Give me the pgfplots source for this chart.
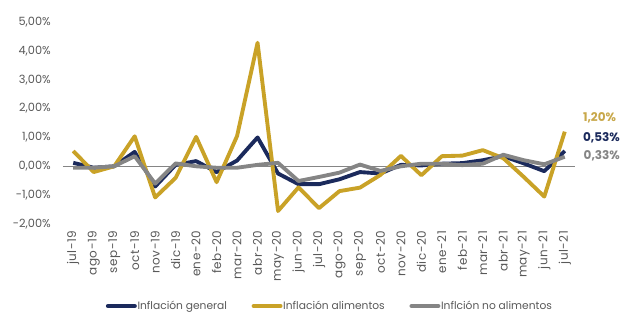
\documentclass[border=0pt]{standalone}
\usepackage{fontspec}
\setmainfont{Poppins}
\newfontfamily\widefont[LetterSpace=4]{Poppins}
\usepackage{pgfplots}
\usepackage{pgfplotstable}
\pgfplotsset{compat=1.18}
\definecolor{navy}{HTML}{1B2A5C}
\definecolor{gold}{HTML}{C9A227}
\definecolor{goldlbl}{HTML}{C8A84B}
\definecolor{grs}{HTML}{858585}
\definecolor{txt}{HTML}{595959}
\pgfplotstableread{
x gen ali noali
0 0.12 0.53 -0.05
1 -0.05 -0.20 -0.05
2 0.00 0.00 0.00
3 0.50 1.04 0.35
4 -0.70 -1.08 -0.60
5 0.05 -0.40 0.10
6 0.18 1.02 0.00
7 -0.20 -0.55 -0.05
8 0.20 1.05 -0.05
9 1.00 4.28 0.05
10 -0.25 -1.55 0.12
11 -0.62 -0.73 -0.51
12 -0.62 -1.45 -0.37
13 -0.45 -0.86 -0.22
14 -0.20 -0.74 0.06
15 -0.25 -0.30 -0.16
16 0.05 0.36 0.00
17 0.03 -0.31 0.09
18 0.09 0.35 0.09
19 0.11 0.37 0.04
20 0.21 0.56 0.09
21 0.35 0.28 0.40
22 0.10 -0.37 0.21
23 -0.17 -1.05 0.07
24 0.53 1.20 0.33
}\datatable
\begin{document}
\begin{tikzpicture}
\path[use as bounding box] (-47.25pt,-65.25pt) rectangle (418.5pt,168pt);
\begin{axis}[
  at={(0,0)}, anchor=south west,
  scale only axis, width=384pt, height=151.5pt,
  xmin=-0.5, xmax=24.5, ymin=-2, ymax=5,
  axis line style={draw=none},
  major tick length=0pt,
  clip=false,
  xtick={0,...,24},
  xticklabels={jul-19,ago-19,sep-19,oct-19,nov-19,dic-19,ene-20,feb-20,mar-20,abr-20,may-20,jun-20,jul-20,ago-20,sep-20,oct-20,nov-20,dic-20,ene-21,feb-21,mar-21,abr-21,may-21,jun-21,jul-21},
  xticklabel style={rotate=90, anchor=east, inner sep=0pt, font=\widefont\fontsize{9}{10}\selectfont, text=txt},
  xticklabel shift=5pt,
  ytick={-2,-1,0,1,2,3,4,5},
  yticklabels={-2{,}00\%,-1{,}00\%,0{,}00\%,1{,}00\%,2{,}00\%,3{,}00\%,4{,}00\%,5{,}00\%},
  yticklabel style={anchor=east, inner sep=0pt, font=\fontsize{8.5}{10}\selectfont, text=txt},
  yticklabel shift=9pt,
  extra y ticks={0}, extra y tick labels={},
  extra y tick style={grid=major, major grid style={grs, line width=0.9pt}},
  legend columns=3,
  legend style={draw=none, at={(0.52,-0.406)}, anchor=center, font=\fontsize{8}{9}\selectfont, text=txt,
    nodes={inner xsep=0.5pt},
    /tikz/every even column/.append style={column sep=18pt}},
  legend image code/.code={\draw[#1, line width=3.2pt, line cap=round] (0pt,0pt) -- (20pt,0pt);},
]
\addplot[navy, line width=2.9pt, line join=round] table[x=x, y=gen] {\datatable};
\addlegendentry{Inflación general}
\addplot[gold, line width=2.9pt, line join=round] table[x=x, y=ali] {\datatable};
\addlegendentry{Inflación alimentos}
\addplot[grs, line width=2.9pt, line join=round] table[x=x, y=noali] {\datatable};
\addlegendentry{Inflción no alimentos}
\node[anchor=west, inner sep=0pt, text=goldlbl, font=\fontsize{9}{10}\selectfont\bfseries] at (axis cs:24,1.67) [xshift=13.5pt] {1,20\%};
\node[anchor=west, inner sep=0pt, text=navy, font=\fontsize{9}{10}\selectfont\bfseries] at (axis cs:24,0.98) [xshift=13.5pt] {0,53\%};
\node[anchor=west, inner sep=0pt, text=grs, font=\fontsize{9}{10}\selectfont\bfseries] at (axis cs:24,0.38) [xshift=14pt] {0,33\%};
\end{axis}
\end{tikzpicture}
\end{document}
